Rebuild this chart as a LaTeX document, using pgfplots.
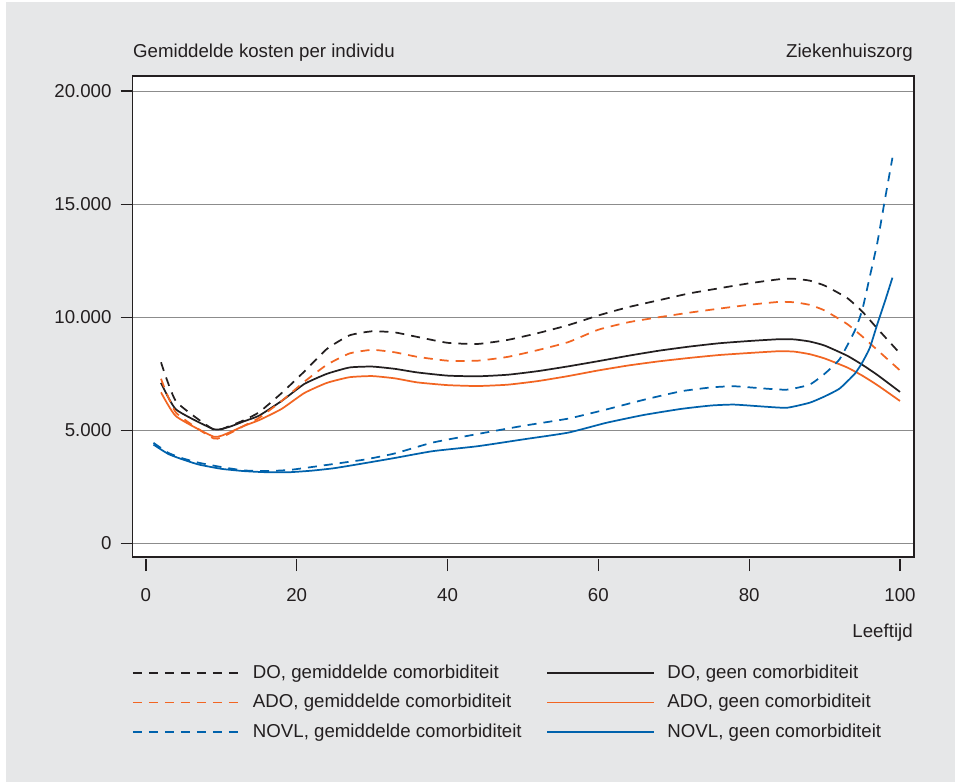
\documentclass[border=0pt]{standalone}
\usepackage{pgfplots}
\pgfplotsset{compat=1.18}
\usepackage{fontspec}
\setmainfont{Liberation Sans}

\definecolor{panel}{HTML}{E6E7E8}
\definecolor{dogray}{HTML}{231F20}
\definecolor{adoorange}{HTML}{F26522}
\definecolor{novlblue}{HTML}{0062AC}
\definecolor{gridgray}{HTML}{8C8C8C}

\begin{document}
\fontsize{14pt}{16pt}\selectfont
\begin{tikzpicture}
% page: 955 x 782 px, 1 px = 0.75 pt, origin at lower left of the plot box
\fill[white] (-99.5pt,-168.75pt) rectangle (616.75pt,417.75pt);
\fill[panel] (-95pt,-168.75pt) rectangle (616.75pt,416.25pt);

\begin{axis}[
    at={(0,0)}, anchor=south west,
    scale only axis,
    width=586pt, height=360.75pt,
    xmin=-1.76, xmax=101.86,
    ymin=-597, ymax=20663,
    axis background/.style={fill=white},
    axis line style={draw=dogray, line width=0.9pt},
    xtick={0,20,...,100},
    ytick={0,5000,10000,15000,20000},
    yticklabels={0,5.000,10.000,15.000,20.000},
    scaled ticks=false,
    xtick pos=lower, ytick pos=left,
    tick align=outside,
    major tick length=9pt,
    tick style={draw=dogray, line width=0.9pt},
    xtick style={yshift=-1.5pt},
    ymajorgrids,
    grid style={draw=gridgray, line width=0.7pt},
    /pgf/number format/assume math mode=true,
    ticklabel style={font=\fontsize{14pt}{16pt}\selectfont, text=dogray},
    xticklabel style={yshift=-10pt},
    yticklabel style={xshift=-2pt},
    legend columns=2,
    legend style={at={(-0.0013,-0.218)}, anchor=north west, draw=none, fill=none,
        font=\fontsize{14pt}{16pt}\selectfont, text=dogray,
        row sep=6pt, inner sep=0pt,
        /tikz/every even column/.append style={column sep=16.5pt}},
    legend cell align=left,
    legend image code/.code={\draw[#1] (0pt,0pt) -- (80pt,0pt); \path (87.5pt,0pt);},
    every axis plot/.append style={line width=1.3pt, smooth, tension=0.3},
    clip=false,
]
% DO, gemiddelde comorbiditeit
\addplot[dogray, dash pattern=on 6.75pt off 5.25pt] coordinates {
(2,8010)(4,6280)(9,5030)(11,5180)(13,5450)(15,5800)(18,6650)(21,7600)(24,8600)
(27,9200)(30,9380)(33,9330)(36,9130)(40,8870)(44,8820)(48,9000)(52,9300)(56,9650)
(60,10080)(64,10450)(68,10750)(72,11050)(76,11280)(80,11500)(84,11680)(86,11700)
(88,11620)(90,11400)(93,10850)(95,10250)(97,9500)(100,8400)};
\addlegendentry{DO, gemiddelde comorbiditeit}
% DO, geen comorbiditeit
\addplot[dogray] coordinates {
(2,7100)(4,5920)(9,5050)(11,5150)(13,5400)(15,5650)(18,6300)(21,7050)(24,7500)
(27,7780)(30,7820)(33,7720)(36,7560)(40,7420)(44,7390)(48,7460)(52,7620)(56,7830)
(60,8060)(64,8300)(68,8520)(72,8700)(76,8850)(80,8950)(84,9030)(86,9020)
(88,8930)(90,8750)(93,8300)(95,7900)(97,7450)(100,6700)};
\addlegendentry{DO, geen comorbiditeit}
% ADO, gemiddelde comorbiditeit
\addplot[adoorange, dash pattern=on 6.75pt off 5.25pt] coordinates {
(2,7280)(4,5780)(9,4640)(11,4850)(13,5200)(15,5550)(18,6300)(21,7150)(24,7900)
(27,8400)(30,8560)(33,8450)(36,8250)(40,8080)(44,8080)(48,8250)(52,8550)(56,8900)
(60,9450)(64,9780)(68,10000)(72,10200)(76,10380)(80,10550)(84,10680)(86,10660)
(88,10550)(90,10300)(93,9700)(95,9150)(97,8550)(100,7650)};
\addlegendentry{ADO, gemiddelde comorbiditeit}
% ADO, geen comorbiditeit
\addplot[adoorange] coordinates {
(2,6680)(4,5620)(9,4720)(11,4900)(13,5200)(15,5450)(18,5950)(21,6650)(24,7100)
(27,7350)(30,7400)(33,7300)(36,7120)(40,7000)(44,6960)(48,7020)(52,7180)(56,7400)
(60,7650)(64,7870)(68,8050)(72,8200)(76,8330)(80,8420)(84,8500)(86,8480)
(88,8370)(90,8180)(93,7780)(95,7420)(97,7000)(100,6300)};
\addlegendentry{ADO, geen comorbiditeit}
% NOVL, gemiddelde comorbiditeit
\addplot[novlblue, dash pattern=on 6.75pt off 5.25pt] coordinates {
(1,4450)(3,4000)(5,3750)(7,3570)(10,3380)(13,3230)(16,3200)(19,3250)(22,3380)
(25,3520)(29,3710)(33,3980)(38,4460)(44,4840)(50,5200)(56,5520)(61,5920)(66,6350)
(71,6730)(75,6900)(78,6950)(82,6850)(85,6800)(88,7020)(90,7500)(92,8150)
(94,9400)(95,10330)(96,11800)(97,13300)(98,15200)(99,17050)};
\addlegendentry{NOVL, gemiddelde comorbiditeit}
% NOVL, geen comorbiditeit
\addplot[novlblue] coordinates {
(1,4370)(3,3950)(5,3700)(7,3490)(10,3300)(13,3200)(16,3150)(19,3150)(22,3220)
(25,3330)(29,3550)(33,3780)(38,4080)(44,4300)(50,4600)(56,4900)(61,5330)(66,5680)
(71,5950)(75,6100)(78,6140)(82,6050)(85,6000)(88,6220)(90,6500)(92,6850)
(94,7500)(95,8000)(96,8650)(97,9700)(98,10700)(99,11750)};
\addlegendentry{NOVL, geen comorbiditeit}
\end{axis}

\node[anchor=west, text=dogray, inner sep=0pt] at (0.2pt,378pt) {Gemiddelde kosten per individu};
\node[anchor=east, text=dogray, inner sep=0pt] at (585.2pt,378pt) {Ziekenhuiszorg};
\node[anchor=east, text=dogray, inner sep=0pt] at (585.2pt,-57pt) {Leeftijd};
\end{tikzpicture}
\end{document}
